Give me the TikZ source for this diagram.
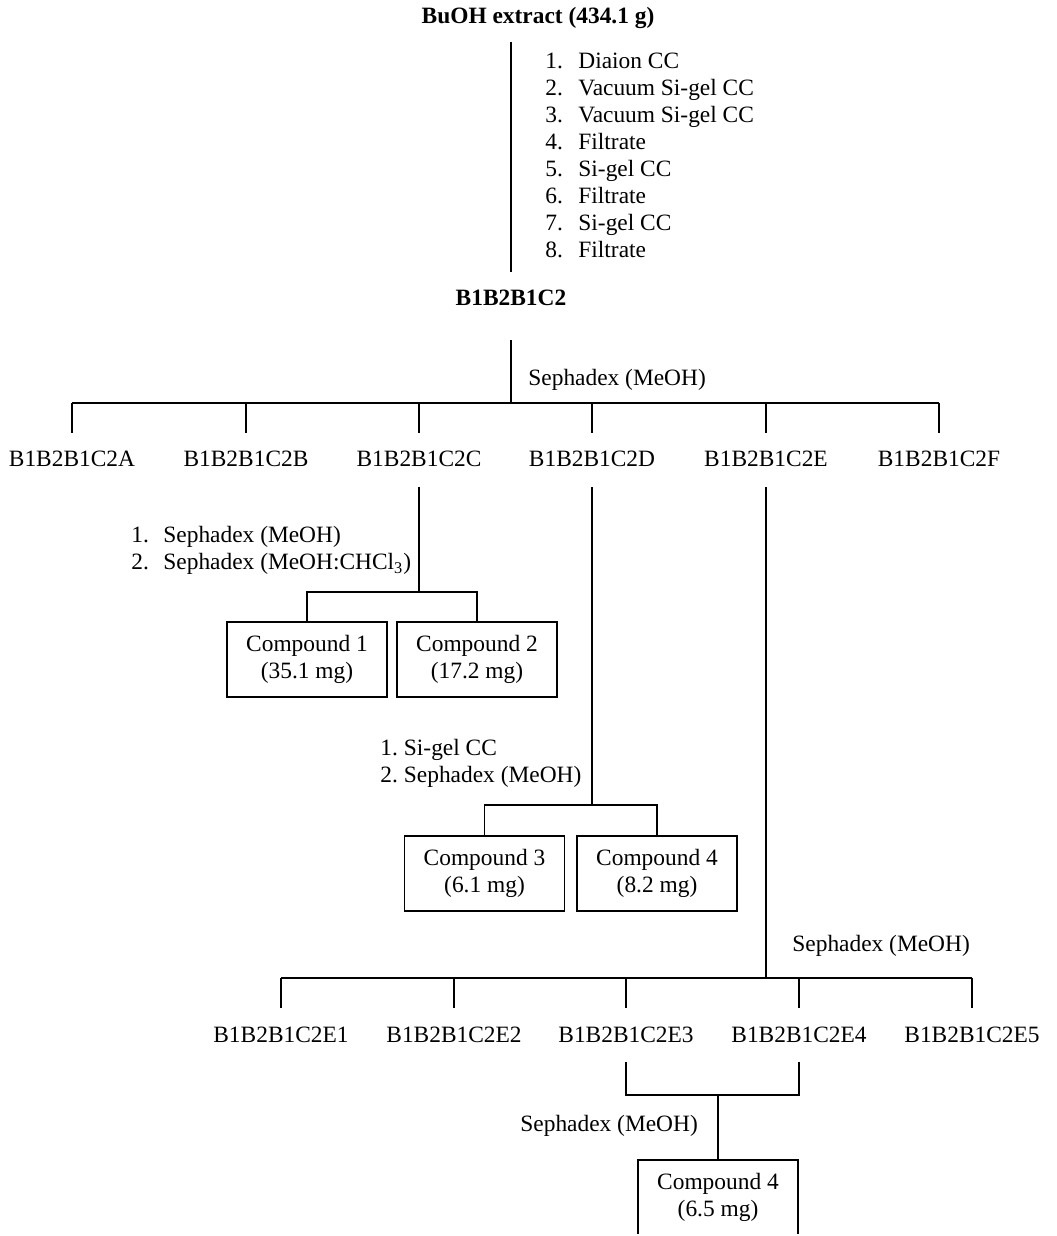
\documentclass[tikz,border=0pt]{standalone}
\usepackage{fontspec}
\setmainfont{Liberation Serif}
\usepackage{tikz}
\usetikzlibrary{positioning}
\tikzset{
  basefont/.style = {font=\fontsize{11.7}{13.5}\selectfont},
  frac/.style = {basefont,inner sep=1pt,text height=8pt,text depth=2.5pt},
  head/.style = {frac,font=\fontsize{11.7}{13.5}\selectfont\bfseries},
  note/.style = {basefont,inner sep=0pt,anchor=west},
  cmpd/.style = {draw,basefont,line width=0.9pt,minimum width=80pt,minimum height=37.5pt,align=center,inner sep=1pt},
  link/.style = {line width=0.9pt},
}
\NewDocumentCommand{\fsplit}{O{link} m m m}{%
\draw[#1] (#3.north) -- (#3 |- #2) -- (#4 |- #2) -- (#4.north);
}

\begin{document}
\begin{tikzpicture}[x=0.5pt,y=-0.5pt]
\useasboundingbox (0,0) rectangle (1056,1236);

% extract and first column work-up
\node[head] (ext) at (538,18) {BuOH extract (434.1 g)};
\node[head] (main) at (511,300) {B1B2B1C2};
\node[note] (steps1) at (545,158) {\begin{tabular}{@{}r@{\hspace{7.75pt}}l@{}}
1. & Diaion CC\\
2. & Vacuum Si-gel CC\\
3. & Vacuum Si-gel CC\\
4. & Filtrate\\
5. & Si-gel CC\\
6. & Filtrate\\
7. & Si-gel CC\\
8. & Filtrate
\end{tabular}};
\draw[link,shorten <=5.75pt,shorten >=7.75pt] (ext.south -| main) -- (main.north);

% sephadex split into A-F
\coordinate (s1) at (511,403);
\node[note] (sep1) at (528,380) {Sephadex (MeOH)};
\foreach \f/\x in {A/72,B/246,C/419,D/592,E/766,F/939}
  \node[frac] (f\f) at (\x,461) {B1B2B1C2\f};
\draw[link,shorten <=13.75pt] (main.south) -- (s1);
\draw[link] (s1 -| fA) -- (s1 -| fF);
\foreach \f in {A,...,F}
  \draw[link,shorten >=7.75pt] (s1 -| f\f) -- (f\f.north);

% fraction C
\coordinate (s2) at (419,592);
\node[note] (steps2) at (131,551) {\begin{tabular}{@{}r@{\hspace{7.25pt}}l@{}}
1. & Sephadex (MeOH)\\
2. & Sephadex (MeOH:CHCl\textsubscript{3})
\end{tabular}};
\node[cmpd] (c1) at (307,659.5) {Compound 1\\(35.1 mg)};
\node[cmpd] (c2) at (477,659.5) {Compound 2\\(17.2 mg)};
\draw[link,shorten <=6.75pt] (fC.south) -- (s2);
\fsplit{s2}{c1}{c2}

% fraction D
\coordinate (s3) at (592,805);
\node[note] (steps3) at (380,763.5) {\begin{tabular}{@{}r@{\hspace{3pt}}l@{}}
1. & Si-gel CC\\
2. & Sephadex (MeOH)
\end{tabular}};
\node[cmpd] (c3) at (484.5,873.5) {Compound 3\\(6.1 mg)};
\node[cmpd] (c4) at (657,873.5) {Compound 4\\(8.2 mg)};
\draw[link,shorten <=6.75pt] (fD.south) -- (s3);
\fsplit{s3}{c3}{c4}

% fraction E
\coordinate (s4) at (766,978);
\node[note] (sep2) at (792,946) {Sephadex (MeOH)};
\foreach \n/\x in {1/281,2/454,3/626,4/799,5/972}
  \node[frac] (e\n) at (\x,1037) {B1B2B1C2E\n};
\draw[link,shorten <=6.75pt] (fE.south) -- (s4);
\draw[link] (s4 -| e1) -- (s4 -| e5);
\foreach \n in {1,...,5}
  \draw[link,shorten >=8.25pt] (s4 -| e\n) -- (e\n.north);

% E3 + E4 combined
\coordinate (s5) at (718,1095);
\node[note] (sep3) at (520,1126) {Sephadex (MeOH)};
\draw[link,shorten <=6.25pt,shorten >=6.25pt] (e3.south) -- (e3 |- s5) -- (e4 |- s5) -- (e4.south);
\begin{scope}
\clip (0,0) rectangle (1056,1233);
\node[cmpd] (c5) at (718,1197.5) {Compound 4\\(6.5 mg)};
\end{scope}
\draw[link] (s5) -- (c5.north);
\end{tikzpicture}
\end{document}
